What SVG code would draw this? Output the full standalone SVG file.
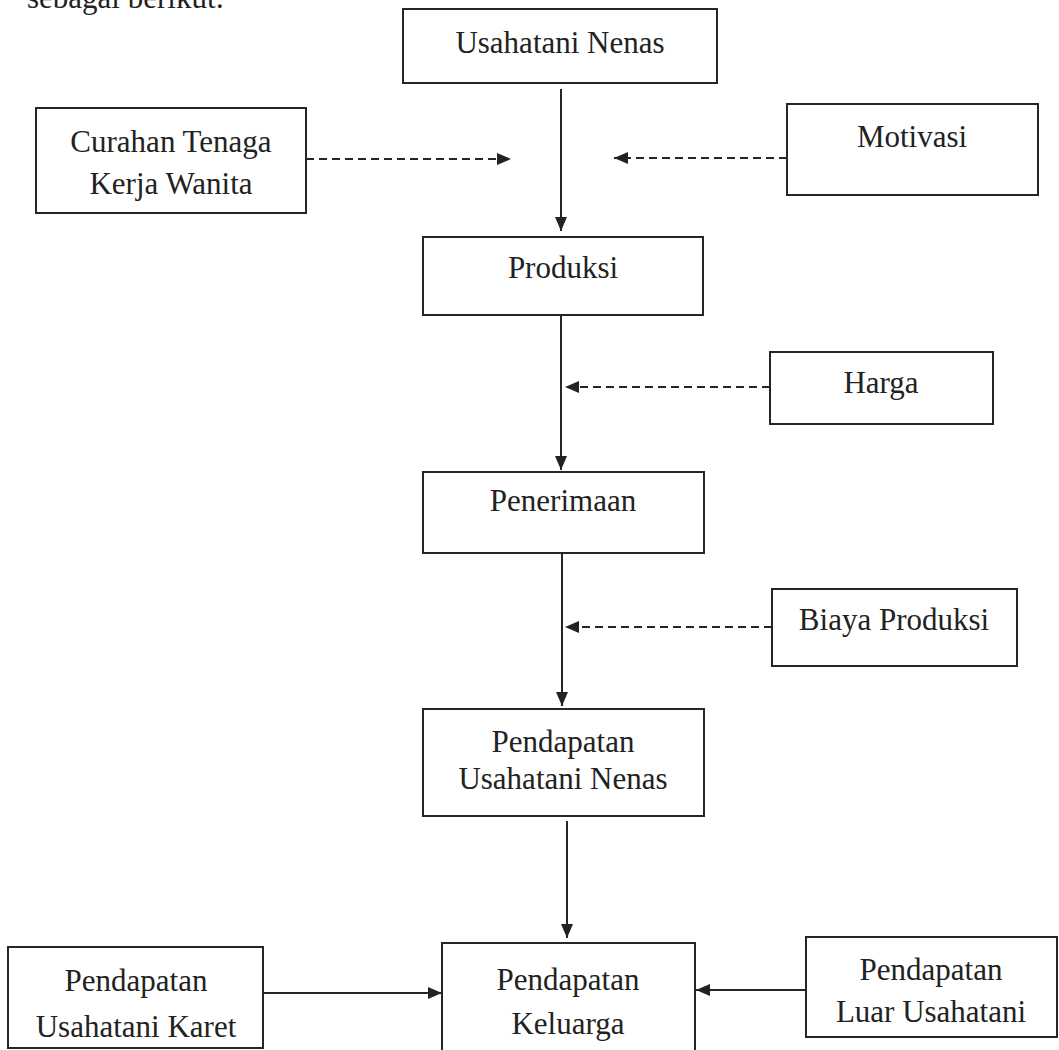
<svg xmlns="http://www.w3.org/2000/svg" width="1059" height="1050" viewBox="0 0 1059 1050">
<style>
.box{fill:#fff;stroke:#262626;stroke-width:2}
.t{font-family:"Liberation Serif","Times New Roman",serif;font-size:31px;fill:#222;text-anchor:middle}
.ln{stroke:#262626;stroke-width:2;fill:none}
.dash{stroke:#262626;stroke-width:2;fill:none;stroke-dasharray:8 5}
</style>
<defs>
<marker id="ah" viewBox="0 0 14 12" refX="14" refY="6" markerWidth="14" markerHeight="12" markerUnits="userSpaceOnUse" orient="auto">
<path d="M0,0 L14,6 L0,12 Z" fill="#222"/>
</marker>
</defs>
<rect width="1059" height="1050" fill="#fff"/>
<text x="27" y="8" font-family="Liberation Serif, serif" font-size="31" fill="#222">sebagai berikut:</text>

<g id="connectors">
<line class="ln" x1="561" y1="89" x2="561" y2="231" marker-end="url(#ah)"/>
<line class="dash" x1="306" y1="159" x2="511" y2="159" marker-end="url(#ah)"/>
<line class="dash" x1="787" y1="158" x2="614" y2="158" marker-end="url(#ah)"/>
<line class="ln" x1="561" y1="315" x2="561" y2="470" marker-end="url(#ah)"/>
<line class="dash" x1="770" y1="387" x2="565" y2="387" marker-end="url(#ah)"/>
<line class="ln" x1="562" y1="553" x2="562" y2="706" marker-end="url(#ah)"/>
<line class="dash" x1="772" y1="627" x2="565" y2="627" marker-end="url(#ah)"/>
<line class="ln" x1="567" y1="821" x2="567" y2="938" marker-end="url(#ah)"/>
<line class="ln" x1="263" y1="993" x2="442" y2="993" marker-end="url(#ah)"/>
<line class="ln" x1="806" y1="990" x2="696" y2="990" marker-end="url(#ah)"/>
</g>

<g id="usahatani-nenas">
<rect class="box" x="403" y="9" width="314" height="74"/>
<text class="t" x="560" y="53">Usahatani Nenas</text>
</g>
<g id="curahan">
<rect class="box" x="36" y="108" width="270" height="105"/>
<text class="t" x="171" y="152">Curahan Tenaga</text>
<text class="t" x="171" y="194">Kerja Wanita</text>
</g>
<g id="motivasi">
<rect class="box" x="787" y="104" width="251" height="91"/>
<text class="t" x="912" y="147">Motivasi</text>
</g>
<g id="produksi">
<rect class="box" x="423" y="237" width="280" height="78"/>
<text class="t" x="563" y="278">Produksi</text>
</g>
<g id="harga">
<rect class="box" x="770" y="352" width="223" height="72"/>
<text class="t" x="881" y="393">Harga</text>
</g>
<g id="penerimaan">
<rect class="box" x="423" y="472" width="281" height="81"/>
<text class="t" x="563" y="511">Penerimaan</text>
</g>
<g id="biaya-produksi">
<rect class="box" x="772" y="589" width="245" height="77"/>
<text class="t" x="894" y="630">Biaya Produksi</text>
</g>
<g id="pendapatan-nenas">
<rect class="box" x="423" y="709" width="281" height="107"/>
<text class="t" x="563" y="752">Pendapatan</text>
<text class="t" x="563" y="789">Usahatani Nenas</text>
</g>
<g id="pendapatan-karet">
<rect class="box" x="8" y="947" width="255" height="101"/>
<text class="t" x="136" y="991">Pendapatan</text>
<text class="t" x="136" y="1037">Usahatani Karet</text>
</g>
<g id="pendapatan-keluarga">
<rect class="box" x="442" y="943" width="253" height="120"/>
<text class="t" x="568" y="990">Pendapatan</text>
<text class="t" x="568" y="1034">Keluarga</text>
</g>
<g id="pendapatan-luar">
<rect class="box" x="806" y="937" width="251" height="100"/>
<text class="t" x="931" y="980">Pendapatan</text>
<text class="t" x="931" y="1022">Luar Usahatani</text>
</g>
</svg>
